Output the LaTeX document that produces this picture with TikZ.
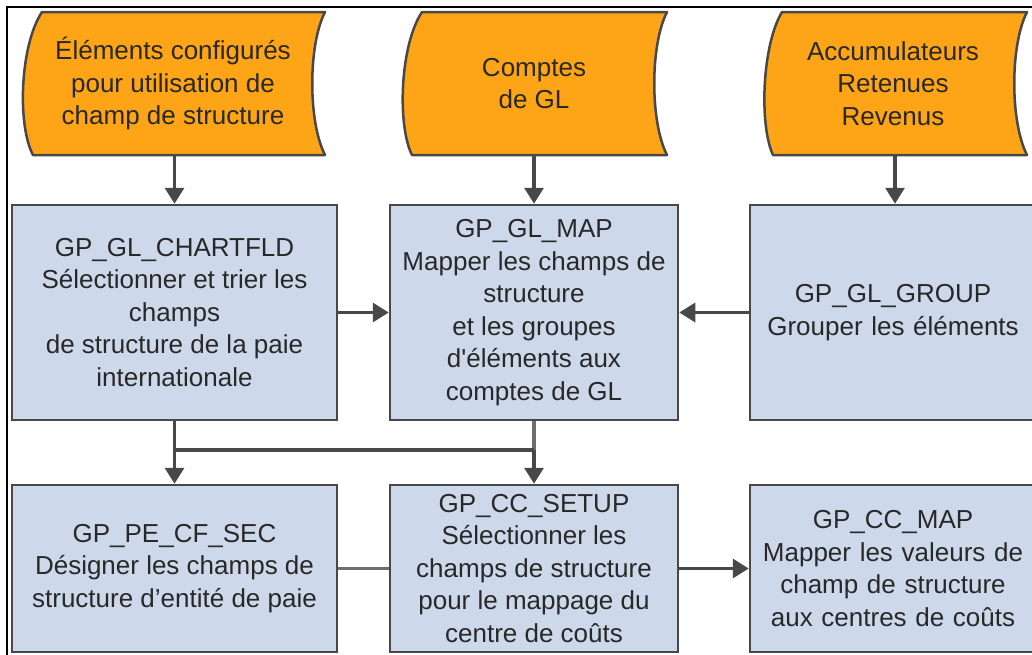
\documentclass[tikz,border=0pt]{standalone}
\usepackage{fontspec}
\setmainfont{Liberation Sans}
\usetikzlibrary{arrows.meta}
\definecolor{orangefill}{RGB}{253,165,22}
\definecolor{bluefill}{RGB}{205,217,235}
\definecolor{edgegray}{RGB}{72,72,72}
\definecolor{lightline}{RGB}{110,110,110}
\definecolor{txt}{RGB}{40,40,40}
\begin{document}
\begin{tikzpicture}[x=1pt,y=-1pt,
  txtfont/.style={font=\fontsize{26}{32.5}\selectfont, text=txt, align=center},
  tapebox/.style={txtfont, draw=none, minimum height=143pt, inner sep=0pt},
  bluebox/.style={txtfont, draw=edgegray, fill=bluefill, line width=2.5pt, inner sep=0pt},
  tapeshape/.style={draw=edgegray, fill=orangefill, line width=2.5pt, line join=round},
  conn/.style={draw=edgegray, line width=3.2pt},
  arr/.style={conn, -{Triangle[width=19pt,length=16pt]}}
]
\useasboundingbox (0,0) rectangle (1032,654);
\fill[white] (0,0) rectangle (1032,654);
% frame
\draw[black, line width=2.5pt] (7,700) -- (7,7) -- (1100,7);

% tape shapes (left side bulging out, right side bulging in)
\draw[tapeshape] (42,12) -- (325,12) .. controls (308,45) and (308,122) .. (325,155)
  -- (33,155) .. controls (17,125) and (20,45) .. (42,12) -- cycle;
\draw[tapeshape] (422,12) -- (667,12) .. controls (650,45) and (650,122) .. (667,155)
  -- (412,155) .. controls (397,125) and (400,45) .. (422,12) -- cycle;
\draw[tapeshape] (782,12) -- (1027,12) .. controls (1010,45) and (1010,122) .. (1027,155)
  -- (773,155) .. controls (759,125) and (762,45) .. (782,12) -- cycle;

\node[tapebox] (s1) at (173,83.5) {Éléments configurés\\pour utilisation de\\champ de structure};
\node[tapebox] (s2) at (534,83.5) {Comptes\\de GL};
\node[tapebox] (s3) at (893,83.5) {Accumulateurs\\Retenues\\Revenus};

% blue boxes
\node[bluebox, minimum width=325pt, minimum height=215pt] (b1) at (174.5,312.5)
  {GP\_GL\_CHARTFLD\\Sélectionner et trier les\\champs\\de structure de la paie\\internationale};
\node[bluebox, minimum width=288pt, minimum height=215pt] (b2) at (534,312.5)
  {GP\_GL\_MAP\\Mapper les champs de\\structure\\et les groupes\\d\textquotesingle éléments aux\\comptes de GL};
\node[bluebox, minimum width=290pt, minimum height=215pt, text width=290pt] (b3) at (895,312.5)
  {\hspace*{-4pt}GP\_GL\_GROUP\\\hspace*{-4pt}Grouper les éléments};
\node[bluebox, minimum width=325pt, minimum height=167pt] (b4) at (174.5,568.5)
  {GP\_PE\_CF\_SEC\\Désigner les champs de\\structure d’entité de paie};
\node[bluebox, minimum width=288pt, minimum height=167pt] (b5) at (534,568.5)
  {GP\_CC\_SETUP\\Sélectionner les\\champs de structure\\pour le mappage du\\centre de coûts};
\node[bluebox, minimum width=290pt, minimum height=167pt, text width=290pt] (b6) at (895,568.5)
  {\hspace*{-4pt}GP\_CC\_MAP\\\hspace*{-4pt}Mapper les valeurs de\\\hspace*{-4pt}champ de structure\\\hspace*{-4pt}aux centres de coûts};

% connectors
\coordinate (j1) at (b1.south |- 0,450);
\coordinate (j2) at (b2.south |- 0,450);
\draw[arr] (s1.south -| b1.north) -- (b1.north);
\draw[arr] (s2.south -| b2.north) -- (b2.north);
\draw[arr] (s3.south -| b3.north) -- (b3.north);
\draw[arr] (b1.east) -- (b2.west);
\draw[arr] (b3.west) -- (b2.east);
\draw[arr] (b1.south) -- (b4.north);
\draw[conn, draw=lightline] (b2.south) -- (j2);
\draw[arr] (j2) -- (b5.north);
\draw[conn] (j1) -- (j2);
\draw[conn, draw=lightline] (b4.east) -- (b5.west);
\draw[arr] (b5.east) -- (b6.west);
\end{tikzpicture}
\end{document}
